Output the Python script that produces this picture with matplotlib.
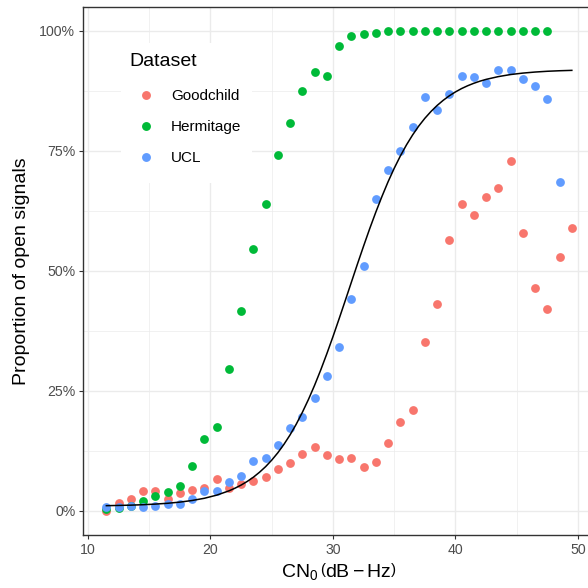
import matplotlib
matplotlib.use("Agg")
import matplotlib.pyplot as plt
from matplotlib.ticker import FuncFormatter, MultipleLocator
from matplotlib.lines import Line2D
from matplotlib.patches import Rectangle

plt.rcParams['font.family'] = ['Liberation Sans', 'DejaVu Sans']
plt.rcParams['mathtext.fontset'] = 'custom'
plt.rcParams['mathtext.rm'] = 'Liberation Sans'
plt.rcParams['mathtext.it'] = 'Liberation Sans:italic'

# ---- data ----
cn0_good = [11.5, 12.5, 13.5, 14.5, 15.5, 16.5, 17.5, 18.5, 19.5, 20.5, 21.5, 22.5, 23.5, 24.5,
            25.5, 26.5, 27.5, 28.5, 29.5, 30.5, 31.5, 32.5, 33.5, 34.5, 35.5, 36.5, 37.5, 38.5,
            39.5, 40.5, 41.5, 42.5, 43.5, 44.5, 45.5, 46.5, 47.5, 48.5, 49.5]
prop_good = [0.1, 1.6, 2.6, 4.1, 4.2, 2.6, 3.8, 4.4, 4.8, 6.7, 4.7, 5.6, 6.3, 7.0,
             8.75, 9.9, 11.9, 13.4, 11.6, 10.9, 11.0, 9.2, 10.3, 14.1, 18.6, 21.0, 35.3, 43.1,
             56.5, 63.9, 61.7, 65.4, 67.2, 72.9, 57.9, 46.5, 42.1, 52.9, 59.0]

cn0_herm = [11.5, 12.5, 13.5, 14.5, 15.5, 16.5, 17.5, 18.5, 19.5, 20.5, 21.5, 22.5, 23.5, 24.5,
            25.5, 26.5, 27.5, 28.5, 29.5, 30.5, 31.5, 32.5, 33.5, 34.5, 35.5, 36.5, 37.5, 38.5,
            39.5, 40.5, 41.5, 42.5, 43.5, 44.5, 45.5, 46.5, 47.5]
prop_herm = [0.5, 0.6, 1.0, 2.1, 3.2, 4.0, 5.2, 9.4, 15.1, 17.5, 29.6, 41.7, 54.5, 64.0,
             74.2, 80.8, 87.5, 91.5, 90.7, 96.8, 99.0, 99.3, 99.6, 99.9, 100, 100, 100, 100,
             100, 100, 100, 100, 100, 100, 100, 100, 100]

cn0_ucl = [11.5, 12.5, 13.5, 14.5, 15.5, 16.5, 17.5, 18.5, 19.5, 20.5, 21.5, 22.5, 23.5, 24.5,
           25.5, 26.5, 27.5, 28.5, 29.5, 30.5, 31.5, 32.5, 33.5, 34.5, 35.5, 36.5, 37.5, 38.5,
           39.5, 40.5, 41.5, 42.5, 43.5, 44.5, 45.5, 46.5, 47.5, 48.5]
prop_ucl = [0.8, 0.8, 1.0, 0.9, 1.0, 1.4, 1.4, 2.4, 4.2, 4.2, 6.0, 7.3, 10.4, 11.1,
            13.8, 17.3, 19.6, 23.5, 28.1, 34.2, 44.2, 51.0, 64.9, 71.1, 75.1, 80.0, 86.3, 83.6,
            86.8, 90.6, 90.5, 89.2, 91.9, 91.9, 90.0, 88.5, 85.8, 68.6]

# fitted curve
curve_x = [11.5, 12.5, 13.5, 14.5, 15.5, 16.5, 17.5, 18.5, 19.5, 20.5, 21.5, 22, 22.5, 23, 23.5,
           24, 24.5, 25, 25.5, 26, 26.5, 27, 27.5, 28, 28.5, 29, 29.5, 30, 30.5, 31, 31.5,
           32, 32.5, 33, 33.5, 34, 34.5, 35, 35.5, 36, 36.5, 37, 37.5, 38, 38.5, 39, 39.5,
           40, 40.5, 41, 41.5, 42, 42.5, 43.5, 44.5, 45.5, 46.5, 47.5, 48.5, 49.5]
curve_y = [1.11, 1.16, 1.22, 1.31, 1.44, 1.61, 1.85, 2.19, 2.65, 3.30, 4.19, 4.75, 5.40, 6.16, 7.04,
           8.07, 9.24, 10.60, 12.14, 13.90, 15.87, 18.08, 20.55, 23.25, 26.20, 29.38, 32.77, 36.33, 40.04, 43.82, 47.65,
           51.47, 55.2, 58.83, 62.28, 65.54, 68.6, 71.40, 73.96, 76.27, 78.34, 80.19, 81.81, 83.23, 84.48, 85.56, 86.50,
           87.31, 88.01, 88.60, 89.11, 89.55, 89.92, 90.50, 90.93, 91.23, 91.45, 91.61, 91.72, 91.80]

series = [("Goodchild", cn0_good, prop_good, "#F8766D"),
          ("Hermitage", cn0_herm, prop_herm, "#00BA38"),
          ("UCL", cn0_ucl, prop_ucl, "#619CFF")]

# ---- figure ----
W = 588
def fx(px):
    return px / W
def fy(py):
    return 1 - py / W

fig = plt.figure(figsize=(5.88, 5.88), dpi=100)
ax = fig.add_axes([83.1 / W, 53 / W, 512 / W, 528 / W])

for name, xs, ys, col in series:
    ax.scatter(xs, ys, s=40, color=col, linewidths=0, zorder=3)
ax.plot(curve_x, curve_y, color="black", lw=1.1, zorder=4)

ax.set_xlim(9.6, 51.4)
ax.set_ylim(-5, 105)
ax.xaxis.set_major_locator(MultipleLocator(10))
ax.xaxis.set_minor_locator(MultipleLocator(5))
ax.yaxis.set_major_locator(MultipleLocator(25))
ax.yaxis.set_minor_locator(MultipleLocator(12.5))
ax.yaxis.set_major_formatter(FuncFormatter(lambda v, p: f"{int(round(v))}%"))

ax.grid(which="major", color="#EBEBEB", lw=1.0, zorder=0)
ax.grid(which="minor", color="#EBEBEB", lw=0.5, zorder=0)
ax.set_axisbelow(True)
for sp in ax.spines.values():
    sp.set_color("#333333")
    sp.set_linewidth(1.0)

ax.tick_params(which="major", length=3, width=0.8, color="#333333",
               labelcolor="#4D4D4D", labelsize=10.2, pad=2.6)
ax.tick_params(which="minor", length=0)

ax.set_ylabel("Proportion of open signals", fontsize=14, color="black", labelpad=7)
ax.set_xlabel(r"$\mathrm{CN}_0\,\left(\mathrm{dB}-\mathrm{Hz}\right)$", fontsize=14,
              color="black", labelpad=3)

# legend: white background box, title, and keys
ax.add_patch(Rectangle((fx(120.7), fy(182.7)), (251.7 - 120.7) / W, (182.7 - 42.7) / W,
                       transform=fig.transFigure, facecolor="white", edgecolor="none",
                       zorder=2.5))
fig.text(fx(129.5), fy(62), "Dataset", fontsize=14, color="black", ha="left", va="center")

handles = [Line2D([], [], marker="o", ls="", markersize=6.4, color=c, markeredgewidth=0)
           for _, _, _, c in series]
leg = ax.legend(handles, [s[0] for s in series],
                loc="upper left", bbox_to_anchor=(fx(133.75), fy(89.5)),
                bbox_transform=fig.transFigure,
                frameon=False, fontsize=11, handletextpad=0.83,
                labelspacing=1.1, borderpad=0, handlelength=1.6, borderaxespad=0)

fig.savefig("out.png", dpi=100)
